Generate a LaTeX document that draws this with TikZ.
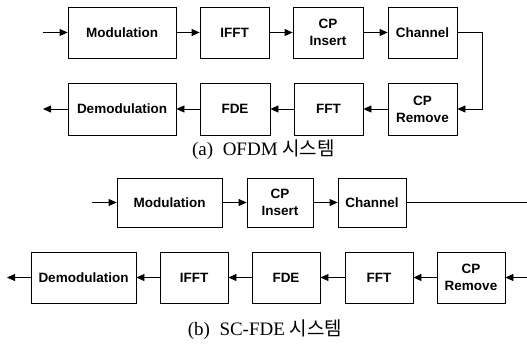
\documentclass[tikz,border=0pt]{standalone}
\usepackage{fontspec}
\setmainfont{Liberation Serif}
\setsansfont{Liberation Sans}
\newfontfamily\kr{Noto Sans CJK KR}
\usetikzlibrary{arrows.meta}
\tikzset{
  blk/.style={draw, line width=0.8pt, rectangle, inner sep=0pt, align=center,
    font=\sffamily\bfseries\fontsize{13.5}{17}\selectfont},
  conn/.style={line width=0.8pt, -{Triangle[length=8pt,width=7pt]}},
  plain/.style={line width=0.8pt},
  captext/.style={font=\fontsize{19}{22}\selectfont, inner sep=0pt}
}
\begin{document}
\begin{tikzpicture}[x=1pt,y=-1pt]
\useasboundingbox (0,0) rectangle (527,345);
% (a) OFDM
\node[blk, minimum width=108, minimum height=51] (amod) at (122,32.5) {Modulation};
\node[blk, minimum width=69, minimum height=51] (aifft) at (234.5,32.5) {IFFT};
\node[blk, minimum width=70, minimum height=51] (acpi) at (328,32.5) {CP\\Insert};
\node[blk, minimum width=69, minimum height=51] (ach) at (422.5,32.5) {Channel};
\node[blk, minimum width=108, minimum height=52] (ademod) at (122,109) {Demodulation};
\node[blk, minimum width=70, minimum height=52] (afde) at (235,109) {FDE};
\node[blk, minimum width=69, minimum height=52] (afft) at (328.5,109) {FFT};
\node[blk, minimum width=69, minimum height=52] (acpr) at (422.5,109) {CP\\Remove};
\coordinate (ain) at (43,32.5);
\coordinate (aout) at (43,109);
\coordinate (ac1) at (482,32.5);
\coordinate (ac2) at (482,109);
\draw[conn] (ain) -- (amod);
\draw[conn] (amod) -- (aifft);
\draw[conn] (aifft) -- (acpi);
\draw[conn] (acpi) -- (ach);
\draw[conn] (ach.east) -- (ac1) -- (ac2) -- (acpr.east);
\draw[conn] (acpr) -- (afft);
\draw[conn] (afft) -- (afde);
\draw[conn] (afde) -- (ademod);
\draw[conn] (ademod) -- (aout);
\node[captext] (capa) at (263.5,150) {(a)\ \ OFDM {\kr 시스템}};
% (b) SC-FDE
\node[blk, minimum width=105, minimum height=49] (bmod) at (169.5,202.5) {Modulation};
\node[blk, minimum width=66, minimum height=49] (bcpi) at (280,202.5) {CP\\Insert};
\node[blk, minimum width=68, minimum height=49] (bch) at (372,202.5) {Channel};
\node[blk, minimum width=105, minimum height=51] (bdemod) at (83.5,277.5) {Demodulation};
\node[blk, minimum width=68, minimum height=51] (bifft) at (194,277.5) {IFFT};
\node[blk, minimum width=68, minimum height=51] (bfde) at (286,277.5) {FDE};
\node[blk, minimum width=68, minimum height=51] (bfft) at (379,277.5) {FFT};
\node[blk, minimum width=68, minimum height=51] (bcpr) at (471,277.5) {CP\\Remove};
\coordinate (bin) at (92,202.5);
\coordinate (bchout) at (527,202.5);
\coordinate (brin) at (527,277.5);
\coordinate (bout) at (7,277.5);
\draw[conn] (bin) -- (bmod);
\draw[conn] (bmod) -- (bcpi);
\draw[conn] (bcpi) -- (bch);
\draw[plain] (bch) -- (bchout);
\draw[conn] (brin) -- (bcpr);
\draw[conn] (bcpr) -- (bfft);
\draw[conn] (bfft) -- (bfde);
\draw[conn] (bfde) -- (bifft);
\draw[conn] (bifft) -- (bdemod);
\draw[conn] (bdemod) -- (bout);
\node[captext] (capb) at (265,330) {(b)\ \ SC-FDE {\kr 시스템}};
\end{tikzpicture}
\end{document}
